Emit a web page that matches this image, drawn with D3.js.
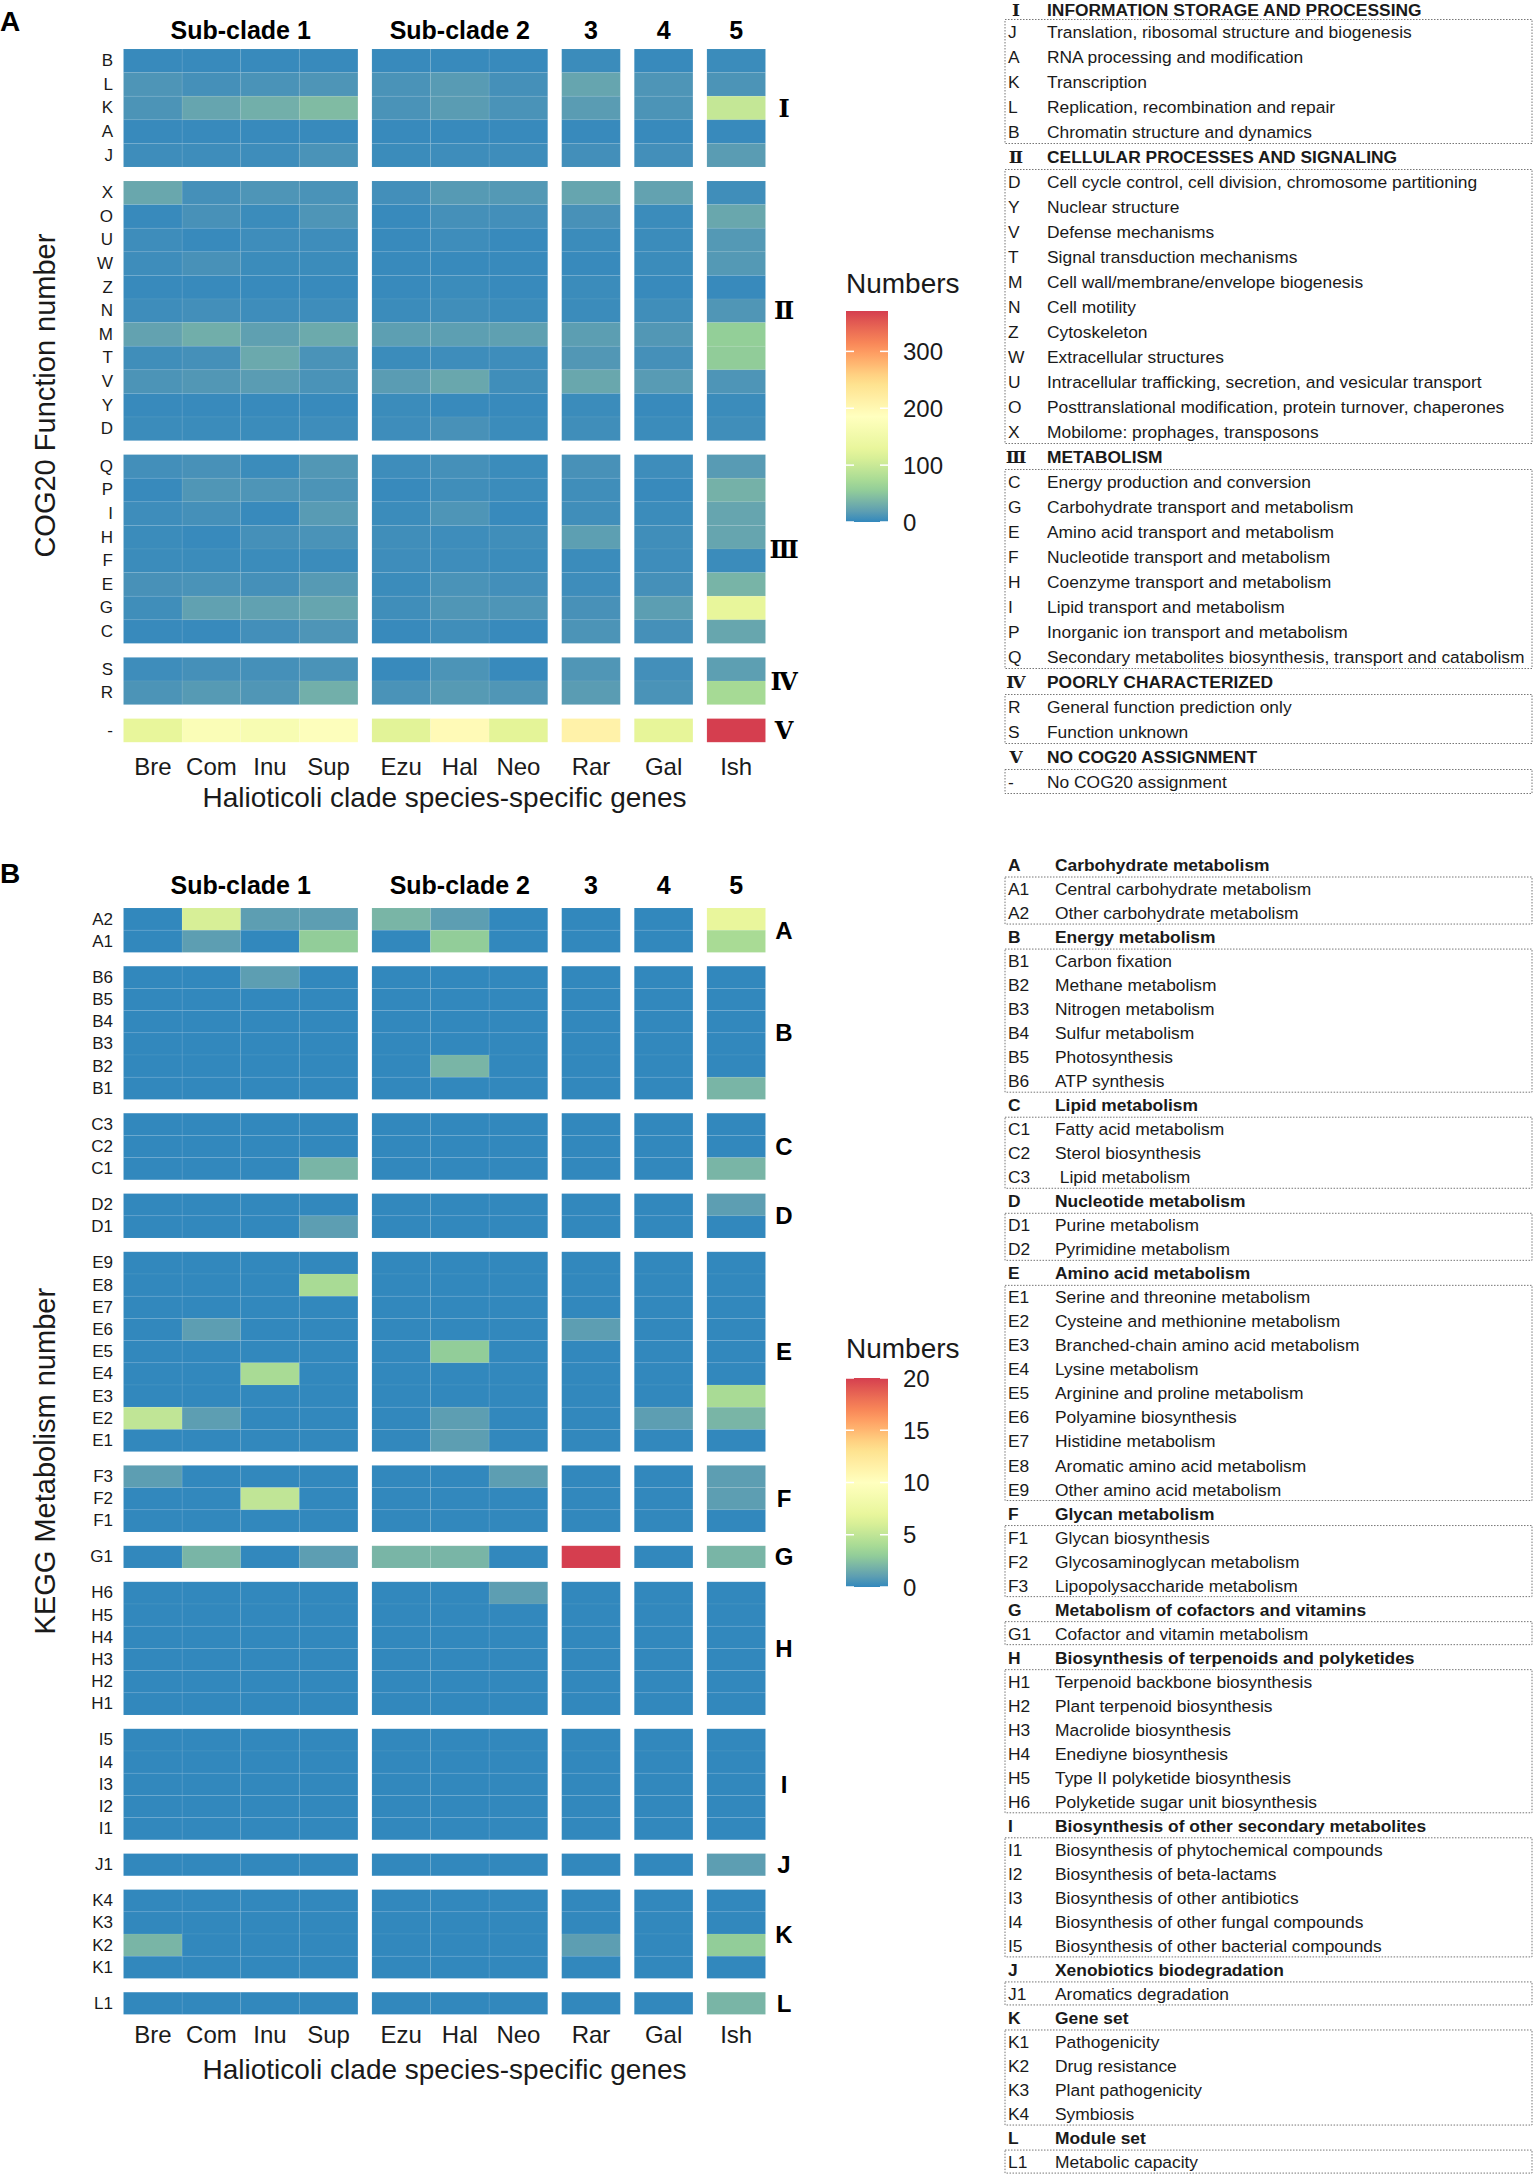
<!DOCTYPE html>
<html>
<head>
<meta charset="utf-8">
<script src="https://cdn.jsdelivr.net/npm/d3@7"></script>
<style>
  body { margin: 0; background: #fff; }
  svg { display: block; }
</style>
</head>
<body>
<svg id="chart" width="1535" height="2177"></svg>
<script>
// species columns and the clade groups they belong to
var species = ["Bre", "Com", "Inu", "Sup", "Ezu", "Hal", "Neo", "Rar", "Gal", "Ish"];
var groupTitles = ["Sub-clade 1", "Sub-clade 2", "3", "4", "5"];
var groupSizes = [4, 3, 1, 1, 1];

// panel A: COG20 categories, top to bottom in each block
var cogBlocks = ["\u2160", "\u2161", "\u2162", "\u2163", "\u2164"];
var cogRows = [
    ["B", "L", "K", "A", "J"],
    ["X", "O", "U", "W", "Z", "N", "M", "T", "V", "Y", "D"],
    ["Q", "P", "I", "H", "F", "E", "G", "C"],
    ["S", "R"],
    ["-"]
];
var cogI = [
    [2, 2, 2, 2, 2, 2, 2, 3, 2, 3],
    [11, 7, 9, 11, 9, 16, 7, 24, 11, 10],
    [10, 24, 32, 42, 9, 17, 9, 17, 10, 96],
    [2, 2, 2, 2, 2, 2, 2, 2, 2, 2],
    [4, 4, 4, 9, 3, 4, 4, 6, 6, 17]
];
var cogII = [
    [26, 7, 11, 9, 6, 15, 14, 24, 22, 5],
    [2, 8, 3, 11, 2, 7, 6, 8, 3, 26],
    [4, 2, 4, 4, 2, 4, 2, 3, 3, 14],
    [4, 8, 3, 3, 2, 2, 2, 2, 3, 14],
    [2, 2, 2, 2, 2, 3, 2, 3, 2, 2],
    [4, 6, 4, 4, 3, 5, 3, 3, 5, 12],
    [22, 31, 20, 28, 19, 19, 20, 18, 13, 57],
    [5, 7, 27, 9, 3, 4, 4, 13, 7, 55],
    [10, 13, 17, 9, 17, 26, 5, 26, 16, 11],
    [2, 2, 2, 2, 3, 2, 2, 3, 2, 3],
    [3, 3, 3, 4, 4, 8, 3, 5, 3, 5]
];
var cogIII = [
    [6, 8, 3, 13, 4, 7, 3, 8, 4, 16],
    [2, 12, 11, 10, 2, 5, 3, 5, 2, 34],
    [4, 7, 2, 16, 3, 11, 2, 5, 3, 24],
    [3, 2, 7, 9, 5, 4, 5, 19, 5, 24],
    [3, 3, 3, 3, 4, 4, 3, 3, 4, 3],
    [8, 9, 7, 15, 3, 9, 6, 4, 7, 36],
    [5, 21, 21, 24, 5, 12, 11, 8, 18, 128],
    [2, 2, 6, 11, 2, 5, 2, 10, 7, 25]
];
var cogIV = [
    [4, 7, 7, 9, 2, 10, 2, 12, 6, 19],
    [10, 15, 12, 32, 9, 15, 12, 17, 9, 72]
];
var cogV = [
    [128, 172, 165, 180, 120, 195, 122, 212, 125, 371]
];
var cogTicks = [0, 100, 200, 300];

// panel B: KEGG metabolism modules
var keggBlocks = ["A", "B", "C", "D", "E", "F", "G", "H", "I", "J", "K", "L"];
var keggRows = [
    ["A2", "A1"],
    ["B6", "B5", "B4", "B3", "B2", "B1"],
    ["C3", "C2", "C1"],
    ["D2", "D1"],
    ["E9", "E8", "E7", "E6", "E5", "E4", "E3", "E2", "E1"],
    ["F3", "F2", "F1"],
    ["G1"],
    ["H6", "H5", "H4", "H3", "H2", "H1"],
    ["I5", "I4", "I3", "I2", "I1"],
    ["J1"],
    ["K4", "K3", "K2", "K1"],
    ["L1"]
];
var keggA = [[0, 6, 1, 1, 2, 1, 0, 0, 0, 7], [0, 1, 0, 3, 0, 3, 0, 0, 0, 4]];
var keggB = [
    [0, 0, 1, 0, 0, 0, 0, 0, 0, 0],
    [0, 0, 0, 0, 0, 0, 0, 0, 0, 0],
    [0, 0, 0, 0, 0, 0, 0, 0, 0, 0],
    [0, 0, 0, 0, 0, 0, 0, 0, 0, 0],
    [0, 0, 0, 0, 0, 2, 0, 0, 0, 0],
    [0, 0, 0, 0, 0, 0, 0, 0, 0, 2]
];
var keggC = [
    [0, 0, 0, 0, 0, 0, 0, 0, 0, 0],
    [0, 0, 0, 0, 0, 0, 0, 0, 0, 0],
    [0, 0, 0, 2, 0, 0, 0, 0, 0, 2]
];
var keggD = [[0, 0, 0, 0, 0, 0, 0, 0, 0, 1], [0, 0, 0, 1, 0, 0, 0, 0, 0, 0]];
var keggE = [
    [0, 0, 0, 0, 0, 0, 0, 0, 0, 0],
    [0, 0, 0, 4, 0, 0, 0, 0, 0, 0],
    [0, 0, 0, 0, 0, 0, 0, 0, 0, 0],
    [0, 1, 0, 0, 0, 0, 0, 1, 0, 0],
    [0, 0, 0, 0, 0, 3, 0, 0, 0, 0],
    [0, 0, 4, 0, 0, 0, 0, 0, 0, 0],
    [0, 0, 0, 0, 0, 0, 0, 0, 0, 4],
    [5, 1, 0, 0, 0, 1, 0, 0, 1, 2],
    [0, 0, 0, 0, 0, 1, 0, 0, 0, 0]
];
var keggF = [
    [1, 0, 0, 0, 0, 0, 1, 0, 0, 1],
    [0, 0, 5, 0, 0, 0, 0, 0, 0, 1],
    [0, 0, 0, 0, 0, 0, 0, 0, 0, 0]
];
var keggG = [[0, 2, 0, 1, 2, 2, 0, 20, 0, 2]];
var keggH = [
    [0, 0, 0, 0, 0, 0, 1, 0, 0, 0],
    [0, 0, 0, 0, 0, 0, 0, 0, 0, 0],
    [0, 0, 0, 0, 0, 0, 0, 0, 0, 0],
    [0, 0, 0, 0, 0, 0, 0, 0, 0, 0],
    [0, 0, 0, 0, 0, 0, 0, 0, 0, 0],
    [0, 0, 0, 0, 0, 0, 0, 0, 0, 0]
];
var keggI = [
    [0, 0, 0, 0, 0, 0, 0, 0, 0, 0],
    [0, 0, 0, 0, 0, 0, 0, 0, 0, 0],
    [0, 0, 0, 0, 0, 0, 0, 0, 0, 0],
    [0, 0, 0, 0, 0, 0, 0, 0, 0, 0],
    [0, 0, 0, 0, 0, 0, 0, 0, 0, 0]
];
var keggJ = [[0, 0, 0, 0, 0, 0, 0, 0, 0, 1]];
var keggK = [
    [0, 0, 0, 0, 0, 0, 0, 0, 0, 0],
    [0, 0, 0, 0, 0, 0, 0, 0, 0, 0],
    [2, 0, 0, 0, 0, 0, 0, 1, 0, 3],
    [0, 0, 0, 0, 0, 0, 0, 0, 0, 0]
];
var keggL = [[0, 0, 0, 0, 0, 0, 0, 0, 0, 2]];
var keggTicks = [0, 5, 10, 15, 20];

// legend tables
var cogLegend = [
    ["\u2160", "INFORMATION STORAGE AND PROCESSING", [
        ["J", "Translation, ribosomal structure and biogenesis"],
        ["A", "RNA processing and modification"],
        ["K", "Transcription"],
        ["L", "Replication, recombination and repair"],
        ["B", "Chromatin structure and dynamics"]]],
    ["\u2161", "CELLULAR PROCESSES AND SIGNALING", [
        ["D", "Cell cycle control, cell division, chromosome partitioning"],
        ["Y", "Nuclear structure"],
        ["V", "Defense mechanisms"],
        ["T", "Signal transduction mechanisms"],
        ["M", "Cell wall/membrane/envelope biogenesis"],
        ["N", "Cell motility"],
        ["Z", "Cytoskeleton"],
        ["W", "Extracellular structures"],
        ["U", "Intracellular trafficking, secretion, and vesicular transport"],
        ["O", "Posttranslational modification, protein turnover, chaperones"],
        ["X", "Mobilome: prophages, transposons"]]],
    ["\u2162", "METABOLISM", [
        ["C", "Energy production and conversion"],
        ["G", "Carbohydrate transport and metabolism"],
        ["E", "Amino acid transport and metabolism"],
        ["F", "Nucleotide transport and metabolism"],
        ["H", "Coenzyme transport and metabolism"],
        ["I", "Lipid transport and metabolism"],
        ["P", "Inorganic ion transport and metabolism"],
        ["Q", "Secondary metabolites biosynthesis, transport and catabolism"]]],
    ["\u2163", "POORLY CHARACTERIZED", [
        ["R", "General function prediction only"],
        ["S", "Function unknown"]]],
    ["\u2164", "NO COG20 ASSIGNMENT", [
        ["-", "No COG20 assignment"]]]
];
var keggLegend = [
    ["A", "Carbohydrate metabolism", [
        ["A1", "Central carbohydrate metabolism"],
        ["A2", "Other carbohydrate metabolism"]]],
    ["B", "Energy metabolism", [
        ["B1", "Carbon fixation"], ["B2", "Methane metabolism"], ["B3", "Nitrogen metabolism"],
        ["B4", "Sulfur metabolism"], ["B5", "Photosynthesis"], ["B6", "ATP synthesis"]]],
    ["C", "Lipid metabolism", [
        ["C1", "Fatty acid metabolism"], ["C2", "Sterol biosynthesis"], ["C3", " Lipid metabolism"]]],
    ["D", "Nucleotide metabolism", [
        ["D1", "Purine metabolism"], ["D2", "Pyrimidine metabolism"]]],
    ["E", "Amino acid metabolism", [
        ["E1", "Serine and threonine metabolism"], ["E2", "Cysteine and methionine metabolism"],
        ["E3", "Branched-chain amino acid metabolism"], ["E4", "Lysine metabolism"],
        ["E5", "Arginine and proline metabolism"], ["E6", "Polyamine biosynthesis"],
        ["E7", "Histidine metabolism"], ["E8", "Aromatic amino acid metabolism"],
        ["E9", "Other amino acid metabolism"]]],
    ["F", "Glycan metabolism", [
        ["F1", "Glycan biosynthesis"], ["F2", "Glycosaminoglycan metabolism"],
        ["F3", "Lipopolysaccharide metabolism"]]],
    ["G", "Metabolism of cofactors and vitamins", [
        ["G1", "Cofactor and vitamin metabolism"]]],
    ["H", "Biosynthesis of terpenoids and polyketides", [
        ["H1", "Terpenoid backbone biosynthesis"], ["H2", "Plant terpenoid biosynthesis"],
        ["H3", "Macrolide biosynthesis"], ["H4", "Enediyne biosynthesis"],
        ["H5", "Type II polyketide biosynthesis"], ["H6", "Polyketide sugar unit biosynthesis"]]],
    ["I", "Biosynthesis of other secondary metabolites", [
        ["I1", "Biosynthesis of phytochemical compounds"], ["I2", "Biosynthesis of beta-lactams"],
        ["I3", "Biosynthesis of other antibiotics"], ["I4", "Biosynthesis of other fungal compounds"],
        ["I5", "Biosynthesis of other bacterial compounds"]]],
    ["J", "Xenobiotics biodegradation", [
        ["J1", "Aromatics degradation"]]],
    ["K", "Gene set", [
        ["K1", "Pathogenicity"], ["K2", "Drug resistance"], ["K3", "Plant pathogenicity"], ["K4", "Symbiosis"]]],
    ["L", "Module set", [
        ["L1", "Metabolic capacity"]]]
];

var spectral = ["#3288BD", "#99D594", "#E6F598", "#FFFFBF", "#FEE08B", "#FC8D59", "#D53E4F"];
var FONT = "'Liberation Sans', Arial, Helvetica, sans-serif";
var SERIF = "'DejaVu Serif', 'Liberation Serif', serif";

var svg = d3.select("#chart");

drawPanel({
    tag: "A", tagY: 31, titleY: 38.5, top: 49, rowH: 23.6, gap: 14,
    blocks: cogBlocks, rows: cogRows, values: [cogI, cogII, cogIII, cogIV, cogV],
    blockFont: SERIF, max: 371, ticks: cogTicks,
    xLabelY: 775, xTitleY: 807, yTitle: "COG20 Function number",
    barTop: 311, barBottom: 522, numbersY: 293
});
drawPanel({
    tag: "B", tagY: 883, titleY: 894.3, top: 908, rowH: 22.2, gap: 13.8,
    blocks: keggBlocks, rows: keggRows,
    values: [keggA, keggB, keggC, keggD, keggE, keggF, keggG, keggH, keggI, keggJ, keggK, keggL],
    blockFont: FONT, max: 20, ticks: keggTicks,
    xLabelY: 2043.3, xTitleY: 2079, yTitle: "KEGG Metabolism number",
    barTop: 1378, barBottom: 1587, numbersY: 1358
});
drawLegend(cogLegend, 7, 25, 1047, true);
drawLegend(keggLegend, 865, 24.02, 1055, false);

function drawPanel(p) {
    var color = d3.scaleLinear()
        .domain(spectral.map(function (d, i) { return p.max * i / (spectral.length - 1); }))
        .range(spectral)
        .interpolate(d3.interpolateLab);

    // one band scale per clade group, one per row block
    var cellW = 58.6, colGap = 14, x = 123.5, start = 0;
    var xScales = groupSizes.map(function (n) {
        var s = d3.scaleBand().domain(species.slice(start, start + n)).range([x, x + n * cellW]);
        x += n * cellW + colGap;
        start += n;
        return s;
    });
    var y = p.top;
    var yScales = p.rows.map(function (rows) {
        var s = d3.scaleBand().domain(rows).range([y, y + rows.length * p.rowH]);
        y += rows.length * p.rowH + p.gap;
        return s;
    });
    var bottom = y - p.gap;
    var left = xScales[0].range()[0];
    var right = xScales[xScales.length - 1].range()[1];

    var g = svg.append("g");

    g.append("text")
        .attr("x", 0).attr("y", p.tagY)
        .attr("font-family", FONT).attr("font-weight", "bold").attr("font-size", 28)
        .text(p.tag);

    xScales.forEach(function (xs, gi) {
        var r = xs.range();
        g.append("text")
            .attr("x", (r[0] + r[1]) / 2).attr("y", p.titleY)
            .attr("text-anchor", "middle")
            .attr("font-family", FONT).attr("font-weight", "bold").attr("font-size", 25)
            .text(groupTitles[gi]);

        var ax = g.append("g")
            .attr("transform", "translate(0," + bottom + ")")
            .call(d3.axisBottom(xs).tickSize(0).tickPadding(p.xLabelY - bottom - 17));
        ax.select(".domain").remove();
        ax.selectAll("text").attr("font-family", FONT).attr("font-size", 24).attr("fill", "#1a1a1a");
    });

    p.rows.forEach(function (rows, bi) {
        var ys = yScales[bi];
        rows.forEach(function (row, ri) {
            species.forEach(function (sp, ci) {
                var xs = xScales.find(function (s) { return s.domain().indexOf(sp) >= 0; });
                g.append("rect")
                    .attr("x", xs(sp)).attr("y", ys(row))
                    .attr("width", xs.bandwidth()).attr("height", ys.bandwidth())
                    .attr("fill", color(p.values[bi][ri][ci]))
                    .attr("stroke", "#fff").attr("stroke-opacity", 0.06).attr("stroke-width", 1);
            });
        });

        var ay = g.append("g")
            .attr("transform", "translate(" + left + ",0)")
            .call(d3.axisLeft(ys).tickSize(0).tickPadding(10.5));
        ay.select(".domain").remove();
        ay.selectAll("text").attr("font-family", FONT).attr("font-size", 17).attr("fill", "#1a1a1a");

        var yr = ys.range();
        g.append("text")
            .attr("x", 784).attr("y", (yr[0] + yr[1]) / 2)
            .attr("text-anchor", "middle").attr("dominant-baseline", "central")
            .attr("font-family", p.blockFont).attr("font-weight", "bold").attr("font-size", 24)
            .text(p.blocks[bi]);
    });

    g.append("text")
        .attr("x", (left + right) / 2).attr("y", p.xTitleY)
        .attr("text-anchor", "middle")
        .attr("font-family", FONT).attr("font-size", 28).attr("fill", "#1a1a1a")
        .text("Halioticoli clade species-specific genes");

    g.append("text")
        .attr("transform", "translate(55," + ((p.top + bottom) / 2) + ") rotate(-90)")
        .attr("text-anchor", "middle")
        .attr("font-family", FONT).attr("font-size", 29).attr("fill", "#1a1a1a")
        .text(p.yTitle);

    // colour bar
    var gid = "grad" + p.tag;
    var grad = svg.append("defs").append("linearGradient")
        .attr("id", gid).attr("x1", 0).attr("y1", 1).attr("x2", 0).attr("y2", 0);
    d3.range(0, 1.0001, 0.05).forEach(function (t) {
        grad.append("stop").attr("offset", t).attr("stop-color", color(t * p.max));
    });
    var barX = 846, barW = 42;
    var yb = d3.scaleLinear().domain([0, p.max]).range([p.barBottom, p.barTop]);
    g.append("text")
        .attr("x", barX).attr("y", p.numbersY)
        .attr("font-family", FONT).attr("font-size", 28).attr("fill", "#1a1a1a")
        .text("Numbers");
    g.append("rect")
        .attr("x", barX).attr("y", p.barTop)
        .attr("width", barW).attr("height", p.barBottom - p.barTop)
        .attr("fill", "url(#" + gid + ")");
    p.ticks.forEach(function (t) {
        [[barX, barX + 8], [barX + barW - 8, barX + barW]].forEach(function (seg) {
            g.append("line")
                .attr("x1", seg[0]).attr("x2", seg[1])
                .attr("y1", yb(t)).attr("y2", yb(t))
                .attr("stroke", "#fff").attr("stroke-width", 1.5);
        });
        g.append("text")
            .attr("x", 903).attr("y", yb(t))
            .attr("dominant-baseline", "central")
            .attr("font-family", FONT).attr("font-size", 24).attr("fill", "#1a1a1a")
            .text(t);
    });
}

function drawLegend(sections, firstY, step, descX, roman) {
    var g = svg.append("g").attr("font-family", FONT).attr("font-size", 17.4).attr("fill", "#1a1a1a");
    var line = 0;
    sections.forEach(function (sec) {
        // the very first header sits at the top edge; nudge it down so it stays whole
        var hy = Math.max(firstY + line * step, 10);
        g.append("text")
            .attr("x", roman ? 1016 : 1008).attr("y", hy)
            .attr("text-anchor", roman ? "middle" : "start")
            .attr("dominant-baseline", "central")
            .attr("font-family", roman ? SERIF : FONT)
            .attr("font-weight", "bold").attr("font-size", roman ? 17 : 17.4)
            .text(sec[0]);
        g.append("text")
            .attr("x", descX).attr("y", hy)
            .attr("dominant-baseline", "central")
            .attr("font-weight", "bold")
            .text(sec[1]);
        line++;
        var boxTop = firstY + line * step - step / 2;
        sec[2].forEach(function (item) {
            var iy = firstY + line * step;
            g.append("text").attr("x", 1008).attr("y", iy).attr("dominant-baseline", "central").text(item[0]);
            g.append("text").attr("x", descX).attr("y", iy).attr("dominant-baseline", "central")
                .style("white-space", "pre").text(item[1]);
            line++;
        });
        g.append("rect")
            .attr("x", 1005).attr("y", boxTop)
            .attr("width", 527).attr("height", sec[2].length * step - 1)
            .attr("fill", "none").attr("stroke", "#777").attr("stroke-width", 1)
            .attr("stroke-dasharray", "1.5,1.5");
    });
}
</script>
</body>
</html>
